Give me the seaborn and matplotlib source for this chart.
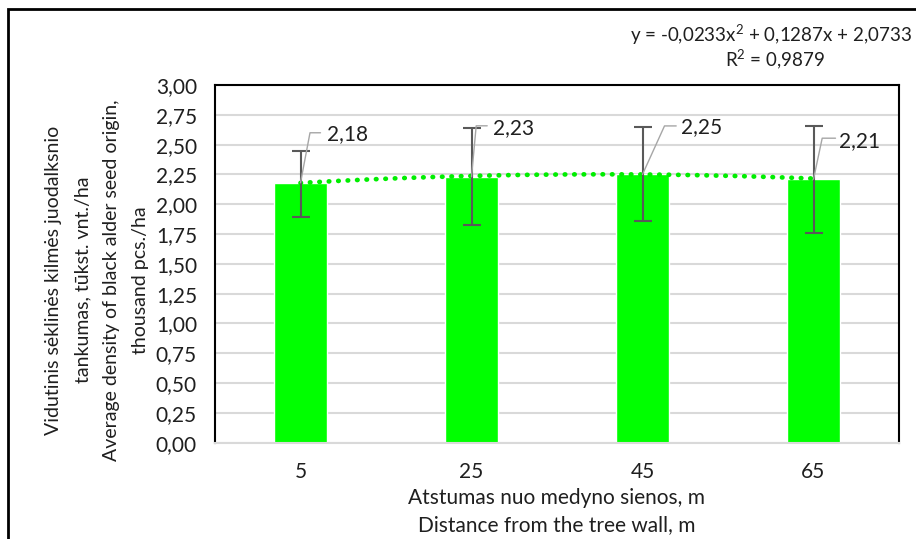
import numpy as np
import pandas as pd
import matplotlib
matplotlib.use("Agg")
import matplotlib.pyplot as plt
import matplotlib.transforms as mtransforms
from matplotlib.lines import Line2D
from matplotlib.patches import Rectangle
import seaborn as sns

# ---- data ----
distances = ["5", "25", "45", "65"]
density = [2.18, 2.23, 2.25, 2.21]
err_low = [0.29, 0.40, 0.39, 0.45]
err_high = [0.27, 0.41, 0.40, 0.45]
value_labels = ["2,18", "2,23", "2,25", "2,21"]
y_ticks = [0.0, 0.25, 0.5, 0.75, 1.0, 1.25, 1.5, 1.75, 2.0, 2.25, 2.5, 2.75, 3.0]
trend_coef = [-0.0233, 0.1287, 2.0733]  # y = a x^2 + b x + c, x = 1..4
equation_text = "y = -0,0233x$^{2}$ + 0,1287x + 2,0733"
r2_text = "R$^{2}$ = 0,9879"
x_title = "Atstumas nuo medyno sienos, m\nDistance from the tree wall, m"
y_title = ("Vidutinis sėklinės kilmės juodalksnio\ntankumas, tūkst. vnt./ha\n"
           "Average density of black alder seed origin,\nthousand pcs./ha")

# ---- style / layout ----
sns.set_theme(style="white")
FONT = ["Lato", "DejaVu Sans"]
plt.rcParams["font.family"] = FONT
plt.rcParams["mathtext.fontset"] = "custom"
plt.rcParams["mathtext.rm"] = "Lato"
FS = 15
TXT = "#1f1f1f"

W, H, DPI = 916, 539, 100
fig = plt.figure(figsize=(W / DPI, H / DPI), dpi=DPI)
fig.patch.set_facecolor("white")
ax = fig.add_axes([215 / W, 1 - 442.7 / H, (899 - 215) / W, (442.7 - 85) / H])

df = pd.DataFrame({"distance": distances, "density": density})
sns.barplot(data=df, x="distance", y="density", color="#00FF00", width=0.308,
            saturation=1, ax=ax, errorbar=None, zorder=2)

xpos = np.arange(len(distances))
ax.errorbar(xpos, density, yerr=[err_low, err_high], fmt="none", ecolor="#595959",
            elinewidth=1.5, capsize=6.5, capthick=1.5, zorder=5)

# trendline (quadratic, from the printed equation)
xt = np.linspace(1, len(distances), 200)
yt = np.polyval(trend_coef, xt)
ax.plot(xt - 1, yt, linestyle=(0, (0.1, 1.9)), dash_capstyle="round", color="#00EE00",
        linewidth=3.4, zorder=4)

ax.set_xlim(-0.5, len(distances) - 0.5)
ax.set_ylim(0, 3.0)
ax.set_yticks(y_ticks)
ax.set_yticklabels([f"{v:.2f}".replace(".", ",") for v in y_ticks], fontsize=FS, color=TXT)
ax.set_xticks(xpos)
ax.set_xticklabels(distances, fontsize=FS, color=TXT)
ax.tick_params(axis="y", length=0, pad=18 * 0.72)
ax.tick_params(axis="x", length=0, pad=14)
ax.yaxis.grid(True, color="#D9D9D9", linewidth=1.5, zorder=0)
ax.set_axisbelow(True)
for s in ["left", "top", "right"]:
    ax.spines[s].set_color("black")
    ax.spines[s].set_linewidth(1.5)
ax.spines["bottom"].set_color("#D9D9D9")
ax.spines["bottom"].set_linewidth(1.5)
ax.set_xlabel("")
ax.set_ylabel("")

fig.text(557 / W, 1 - 511.5 / H, x_title, fontsize=FS, color=TXT, ha="center",
         va="center", linespacing=1.45, multialignment="center")
fig.text(97 / W, 1 - 280 / H, y_title, fontsize=14, color=TXT, ha="center",
         va="center", rotation=90, linespacing=1.85, multialignment="center")

# data labels with leader lines (offsets in pixels: elbow, end, text-left)
leader = [((9.5, 50), (20, 50), (27, 49)),
          ((4.7, 51), (15.7, 51), (21, 49)),
          ((22, 48.5), (33.7, 48.5), (38.7, 47.5)),
          ((8.7, 41), (22, 41), (26, 38.6))]
for i, (v, lab) in enumerate(zip(density, value_labels)):
    px, py = ax.transData.transform((xpos[i], v))
    (ex, ey), (nx, ny), (tx, ty) = leader[i]
    fig.add_artist(Line2D([px, px + ex, px + nx], [py, py + ey, py + ny],
                          transform=mtransforms.IdentityTransform(),
                          color="#A6A6A6", linewidth=1.0, zorder=6))
    fig.text((px + tx) / W, (py + ty) / H, lab, fontsize=FS, color=TXT,
             ha="left", va="center")

fig.text(771 / W, 1 - 35 / H, equation_text, fontsize=13.5, color=TXT, ha="center", va="center")
fig.text(775 / W, 1 - 60 / H, r2_text, fontsize=13.5, color=TXT, ha="center", va="center")

# outer chart border
fig.add_artist(Rectangle((8 / W, -0.05), 1.1, 1 - 9 / H + 0.05, transform=fig.transFigure,
                         fill=False, edgecolor="black", linewidth=2))

fig.savefig("out.png", dpi=DPI)
